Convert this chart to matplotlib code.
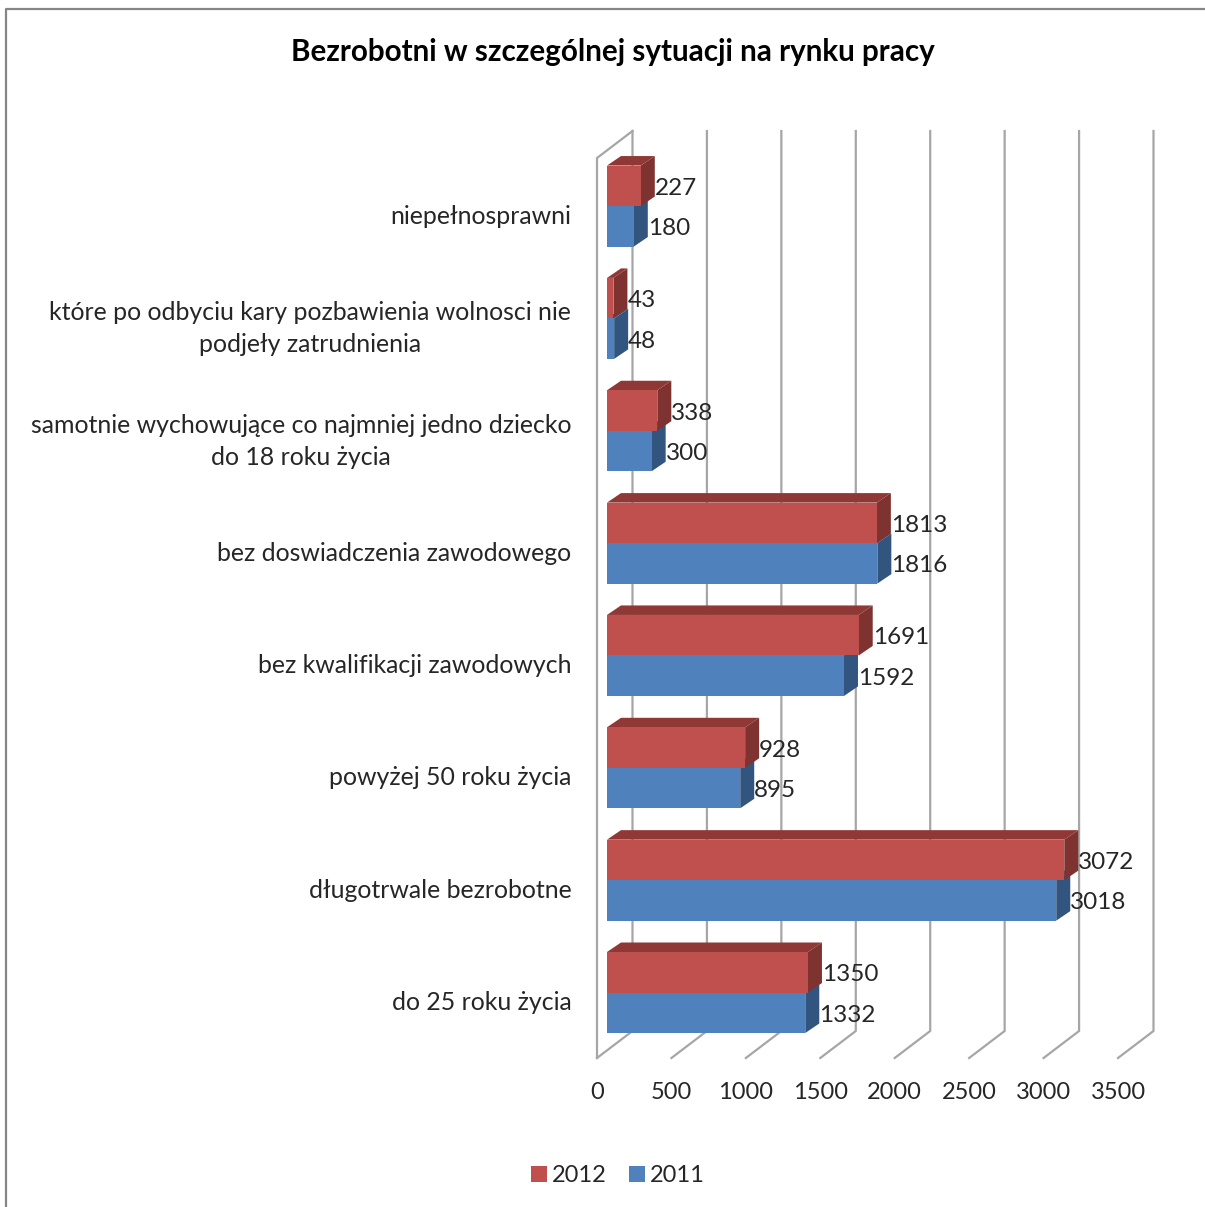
import numpy as np
import matplotlib
matplotlib.use("Agg")
import matplotlib.pyplot as plt
from matplotlib.lines import Line2D
from matplotlib.patches import Polygon
from matplotlib.transforms import ScaledTranslation

plt.rcParams['font.family'] = ['Lato', 'DejaVu Sans']

categories = [
    'do 25 roku życia',
    'długotrwale bezrobotne',
    'powyżej 50 roku życia',
    'bez kwalifikacji zawodowych',
    'bez doswiadczenia zawodowego',
    'samotnie wychowujące co najmniej jedno dziecko\ndo 18 roku życia',
    'które po odbyciu kary pozbawienia wolnosci nie\npodjeły zatrudnienia',
    'niepełnosprawni',
]
values_2012 = [1350, 3072, 928, 1691, 1813, 338, 43, 227]
values_2011 = [1332, 3018, 895, 1592, 1816, 300, 48, 180]
x_ticks = [0, 500, 1000, 1500, 2000, 2500, 3000, 3500]

W, H = 1205, 1207
TXT = '#262626'
GRID = '#a6a6a6'

# ~ plot box in pixels, front plane of the fake 3d chart
L, R, T, B = 597, 1118, 158, 1058
ROW = 112.35
fig = plt.figure(figsize=(W / 100, H / 100), dpi=100)
ax = fig.add_axes([L / W, 1 - B / H, (R - L) / W, (B - T) / H])
ax.set_xlim(0, 3500)
ax.set_ylim((992.5 - B) / ROW, (992.5 - T) / ROW)
ux = 3500 / (R - L)    # data per pixel
uy = 1 / ROW

# ~ walls
back_x, back_y = 35.5 * ux, 27 * uy
y0, y1 = ax.get_ylim()
ax.plot([0, 0, back_x], [y0, y1, y1 + back_y], color=GRID, lw=1.6, clip_on=False, zorder=1)
for t in x_ticks:
    ax.plot([t, t + back_x, t + back_x], [y0, y0 + back_y, y1 + back_y],
            color=GRID, lw=1.6, clip_on=False, zorder=1)


def draw_bars(vals, bottom, front, top, side, label, z):
    start = 10 * ux
    h = 40.5 * uy
    dx, dy = 14 * ux, 9.5 * uy
    ys = np.arange(len(vals)) + bottom
    bars = ax.barh(ys, vals, height=h, left=start, align='edge', color=front,
                   label=label, zorder=z + 1)
    for v, y in zip(vals, ys):
        e = start + v
        ax.add_patch(Polygon([(start, y + h), (e, y + h), (e + dx, y + h + dy), (start + dx, y + h + dy)],
                             color=top, lw=0, zorder=z, clip_on=False))
        ax.add_patch(Polygon([(e, y), (e + dx, y + dy), (e + dx, y + h + dy), (e, y + h)],
                             color=side, lw=0, zorder=z, clip_on=False))
        ax.text(e + dx, y + h / 2 - 2.5 * uy, str(v), ha='left', va='center', fontsize=17.5,
                color=TXT, zorder=10)
    return bars


h_2011 = draw_bars(values_2011, -40.5 * uy, '#4f81bd', '#3a6596', '#31557f', '2011', 2)
h_2012 = draw_bars(values_2012, 0, '#c0504d', '#8f3836', '#7f3331', '2012', 4)

for s in ax.spines.values():
    s.set_visible(False)
ax.patch.set_visible(False)

ax.set_xticks(x_ticks)
ax.set_xticklabels(x_ticks, fontsize=17, color=TXT)
ax.tick_params(axis='x', length=0, pad=17)

ax.set_yticks(range(len(categories)))
ax.set_yticklabels(categories, fontsize=17.9, color=TXT, multialignment='center', linespacing=1.47)
ax.tick_params(axis='y', length=0, pad=18.5)
for lab, name in zip(ax.get_yticklabels(), categories):
    # two line labels sit a little higher
    shift = 4 if '\n' in name else 8
    down = ScaledTranslation(0, -shift / 100, fig.dpi_scale_trans)
    lab.set_transform(lab.get_transform() + down)

fig.text(612.5 / W, 1 - 52 / H, 'Bezrobotni w szczególnej sytuacji na rynku pracy',
         ha='center', va='center', fontsize=21.3, fontweight='bold', color='black')

fig.legend(handles=[h_2012, h_2011], labels=['2012', '2011'], loc='center',
           bbox_to_anchor=(618 / W, 1 - 1176 / H), ncol=2, frameon=False, fontsize=17,
           handlelength=0.68, handleheight=0.68, handletextpad=0.2, columnspacing=0.95,
           labelcolor=TXT)

# ~ chart frame, cropped on the right and at the bottom
fig.add_artist(Line2D([6 / W, 6 / W, 1], [0, 1 - 9 / H, 1 - 9 / H], color='#868686', lw=1.6))

fig.savefig('out.png', dpi=100)
